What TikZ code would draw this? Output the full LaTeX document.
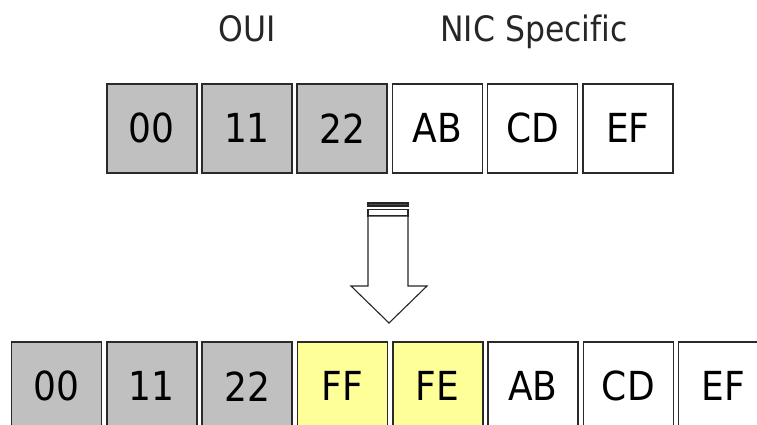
\documentclass[tikz,border=0pt]{standalone}
\usepackage{fontspec}
\setmainfont{DejaVu Sans Condensed}[Ligatures=NoCommon]
\definecolor{grayfill}{HTML}{C0C0C0}
\definecolor{yellowfill}{HTML}{FFFF99}
\definecolor{edge}{HTML}{2A2A2A}
\tikzset{
  cell/.style={draw=edge, line width=1.6pt, minimum width=90pt, minimum height=89pt,
    inner sep=0pt, anchor=north west, font=\fontsize{40}{42}\selectfont, text=black},
  ouicell/.style={cell, fill=grayfill},
  nicell/.style={cell, fill=white},
  newcell/.style={cell, fill=yellowfill},
  heading/.style={anchor=base, inner sep=0pt, font=\fontsize{35}{37}\selectfont, text=black!85},
  blockarrow/.style={draw=black!85, line width=1.1pt, fill=white, line join=miter}
}
\begin{document}
\begin{tikzpicture}[x=1pt,y=-1pt]
  \useasboundingbox (0,0) rectangle (757,425);
  \clip (0,0) rectangle (757,425);
  % headings
  \node[heading] (oui) at (247,42) {OUI};
  \node[heading] (nic) at (534,42) {NIC Specific};
  % top row
  \node[ouicell] (t1) at (106,83) {00};
  \node[ouicell] (t2) at (201.2,83) {11};
  \node[ouicell] (t3) at (296.4,83) {22};
  \node[nicell]  (t4) at (391.6,83) {AB};
  \node[nicell]  (t5) at (486.8,83) {CD};
  \node[nicell]  (t6) at (582,83) {EF};
  % arrow
  \draw[blockarrow, fill=black!70] (368,203) rectangle (408,206);
  \draw[blockarrow] (368,209.5) rectangle (408,216);
  \draw[blockarrow] (368,216) -- (368,286) -- (351,286) -- (389,323)
     -- (427,286) -- (408,286) -- (408,216) -- cycle;
  % bottom row
  \node[ouicell] (b1) at (10.7,341) {00};
  \node[ouicell] (b2) at (106,341) {11};
  \node[ouicell] (b3) at (201.3,341) {22};
  \node[newcell] (b4) at (296.6,341) {FF};
  \node[newcell] (b5) at (391.9,341) {FE};
  \node[nicell]  (b6) at (487.2,341) {AB};
  \node[nicell]  (b7) at (582.5,341) {CD};
  \node[nicell]  (b8) at (677.8,341) {EF};
\end{tikzpicture}
\end{document}
